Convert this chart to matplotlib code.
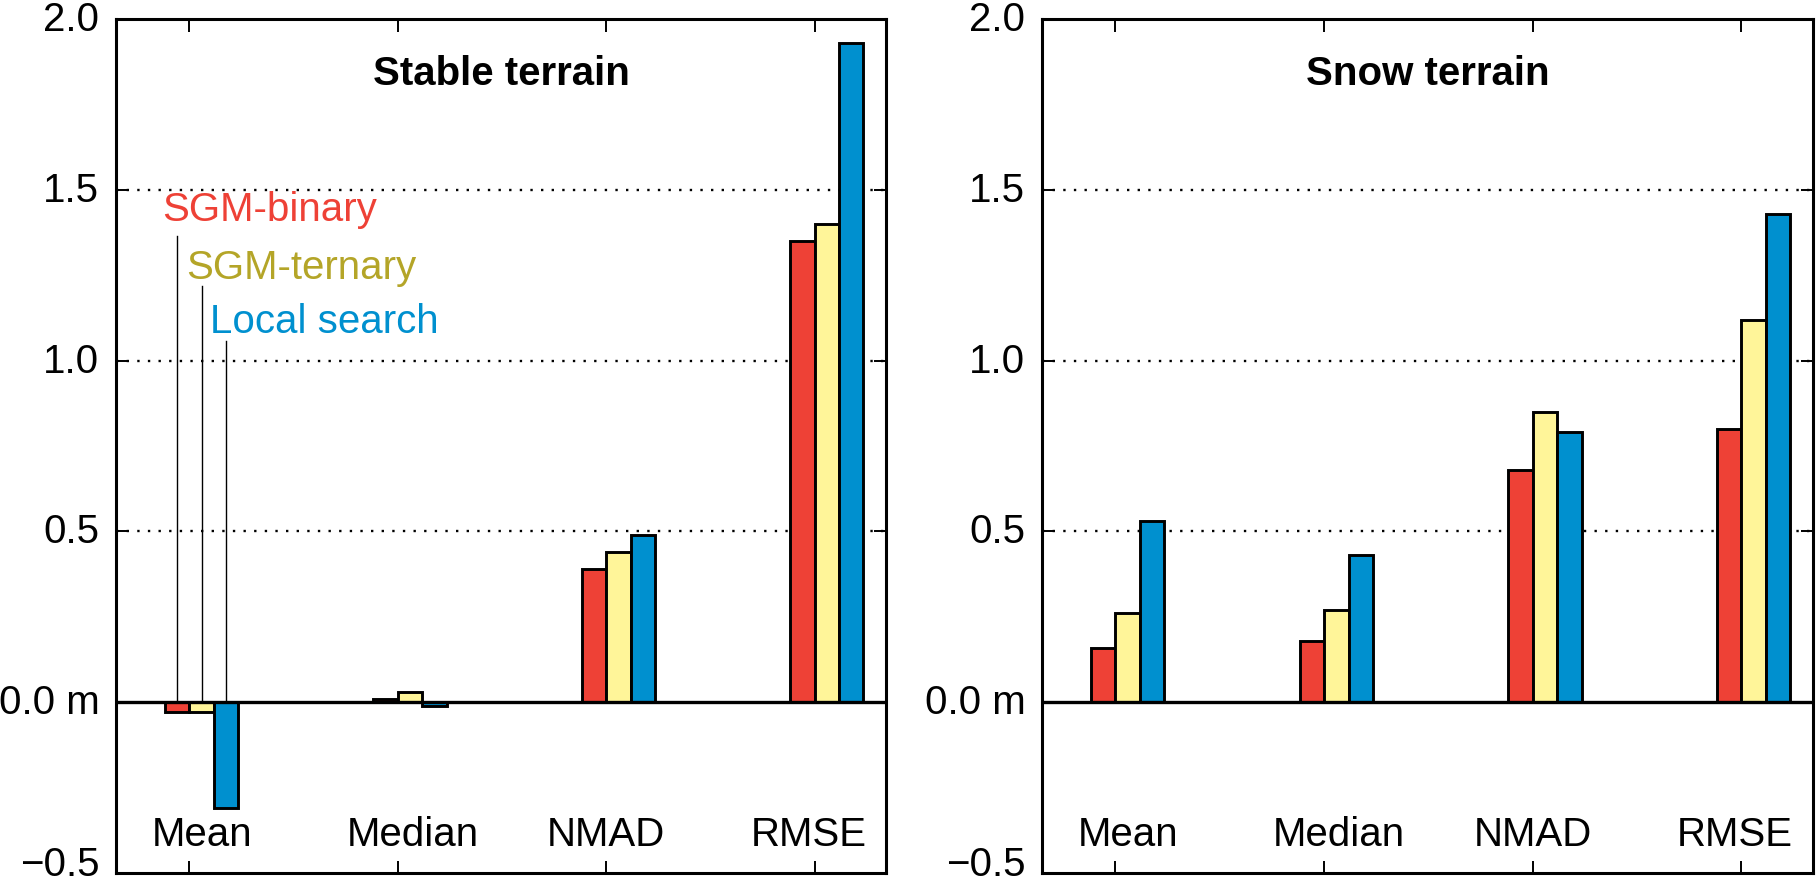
import numpy as np
import matplotlib.pyplot as plt
import matplotlib.transforms as mtransforms

plt.rcParams['font.family'] = ['Liberation Sans', 'DejaVu Sans']

categories = ['Mean', 'Median', 'NMAD', 'RMSE']
methods = ['SGM-binary', 'SGM-ternary', 'Local search']

# values in metres
stable = {
    'SGM-binary':   [-0.03, 0.01, 0.39, 1.35],
    'SGM-ternary':  [-0.03, 0.03, 0.44, 1.40],
    'Local search': [-0.31, -0.01, 0.49, 1.93],
}
snow = {
    'SGM-binary':   [0.16, 0.18, 0.68, 0.80],
    'SGM-ternary':  [0.26, 0.27, 0.85, 1.12],
    'Local search': [0.53, 0.43, 0.79, 1.43],
}
panel_titles = ['Stable terrain', 'Snow terrain']

bar_colors = ['#EE4136', '#FFF599', '#0090CF']
text_colors = ['#EE4136', '#B4A528', '#0090CF']

ytick_vals = [-0.5, 0.0, 0.5, 1.0, 1.5, 2.0]
ytick_labels = ['\u22120.5', '0.0 m', '0.5', '1.0', '1.5', '2.0']

W = 1817
H = 886
fig = plt.figure(figsize=(W / 100, H / 100), dpi=100)
ax1 = fig.add_axes([116 / W, 13 / H, 770 / W, 854 / H])
ax2 = fig.add_axes([1042 / W, 13 / H, 771 / W, 854 / H])

w = 0.117
x = np.arange(len(categories))
label_shift = [0.06, 0.07, 0.0, -0.03]
fs = 29

for ax, data, title in zip([ax1, ax2], [stable, snow], panel_titles):
    for k, m in enumerate(methods):
        ax.bar(x + (k - 1) * w, data[m], width=w, align='edge',
               color=bar_colors[k], edgecolor='black', linewidth=2.1, zorder=3)

    for g in [0.5, 1.0, 1.5]:
        ax.axhline(g, color='black', lw=1.7, ls=(0, (1, 3.5)), zorder=1)
    ax.axhline(0, color='black', lw=2.4, zorder=4)

    ax.set_xlim(-0.352, 3.343)
    ax.set_ylim(-0.5, 2.0)
    ax.set_xticks(x)
    ax.set_xticklabels([])
    ax.set_yticks(ytick_vals)
    ax.set_yticklabels(ytick_labels, fontsize=fs)
    ax.tick_params(axis='both', direction='in', length=9, width=1.4,
                   top=True, right=True, bottom=True, left=True, pad=12)
    # lift the y labels a little; the bottom one more so it stays inside
    for j, lab in enumerate(ax.get_yticklabels()):
        up = 12 if j == 0 else 3
        shift = mtransforms.ScaledTranslation(0, up / 100, fig.dpi_scale_trans)
        lab.set_transform(lab.get_transform() + shift)
    for sp in ax.spines.values():
        sp.set_linewidth(2.2)

    for i, c in enumerate(categories):
        ax.text(i + label_shift[i], -0.42, c, ha='center', va='baseline', fontsize=fs)

    ax.text(0.5, 0.9228, title, transform=ax.transAxes, ha='center',
            va='baseline', fontsize=fs, fontweight='bold')

# method labels with leader lines on the left panel
label_pos = [(-0.129, 1.41, 1.365), (-0.014, 1.239, 1.218), (0.10, 1.08, 1.057)]
for k, m in enumerate(methods):
    xc = x[0] + (k - 0.5) * w
    tx, ty, top = label_pos[k]
    ax1.plot([xc, xc], [0, top], color='black', lw=1.0, zorder=2)
    ax1.text(tx, ty, m, color=text_colors[k], fontsize=fs, va='baseline', ha='left')

fig.savefig('out.png', dpi=100)
